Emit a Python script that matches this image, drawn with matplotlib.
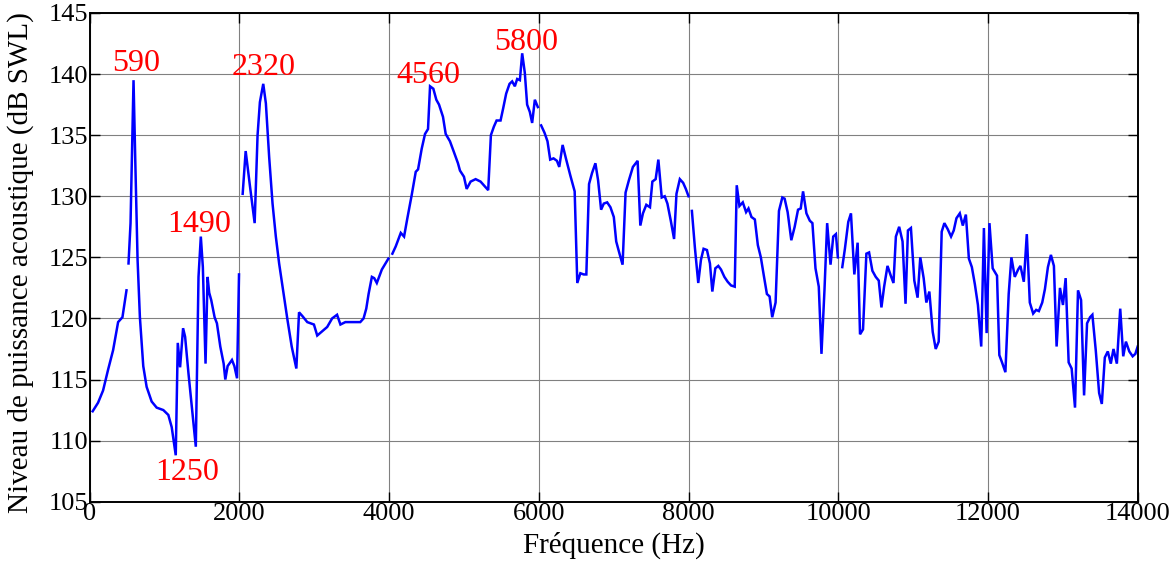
import numpy as np
import matplotlib
matplotlib.use("Agg")
import matplotlib.pyplot as plt

# sound power level spectrum, one block per analysis band (gaps between blocks)
seg1_hz = [40, 112, 179, 246, 313, 380, 438, 492]
seg1_db = [112.4, 113.1, 114.1, 115.8, 117.4, 119.7, 120.1, 122.3]

seg2_hz = [519, 546, 586, 609, 640, 671, 716, 761, 828, 895, 984, 1051, 1096, 1150,
           1177, 1208, 1248, 1275, 1320, 1374, 1418, 1454, 1485, 1512, 1548, 1575,
           1597, 1624, 1669, 1700, 1745, 1790, 1812, 1843, 1901, 1933, 1969, 1995]
seg2_db = [124.5, 127.8, 139.5, 133.0, 124.8, 120.1, 116.1, 114.4, 113.2, 112.7, 112.5,
           112.1, 111.1, 108.8, 118.0, 116.0, 119.2, 118.5, 115.5, 112.2, 109.5, 123.4,
           126.7, 124.2, 116.3, 123.4, 122.1, 121.5, 120.1, 119.6, 117.7, 116.3, 115.0,
           116.1, 116.6, 116.1, 115.1, 123.6]

seg3_hz = [2044, 2084, 2142, 2204, 2243, 2274, 2319, 2354, 2398, 2443, 2487, 2531, 2584,
           2642, 2699, 2761, 2797, 2841, 2907, 2996, 3040, 3097, 3173, 3239, 3305, 3350,
           3416, 3505, 3615, 3659, 3695, 3726, 3770, 3801, 3836, 3903, 3991]
seg3_db = [130.2, 133.7, 130.8, 127.8, 135.0, 137.7, 139.2, 137.6, 133.2, 129.4, 126.7,
           124.5, 122.3, 119.9, 117.7, 115.9, 120.5, 120.2, 119.7, 119.5, 118.6, 118.9,
           119.3, 120.0, 120.3, 119.5, 119.7, 119.7, 119.7, 120.0, 120.8, 122.0, 123.4,
           123.3, 122.9, 124.0, 124.9]

seg4_hz = [4044, 4089, 4156, 4200, 4244, 4302, 4356, 4387, 4436, 4480, 4520, 4547, 4591,
           4631, 4667, 4720, 4756, 4813, 4867, 4920, 4947, 5000, 5036, 5089, 5156, 5222,
           5280, 5324, 5360, 5400, 5436, 5489, 5524, 5564, 5609, 5644, 5680, 5711, 5747,
           5778, 5813, 5844, 5880, 5911, 5947, 5987]
seg4_db = [125.3, 125.9, 127.0, 126.7, 128.2, 130.1, 132.0, 132.2, 133.9, 135.1, 135.5,
           139.0, 138.8, 137.9, 137.5, 136.5, 135.1, 134.5, 133.6, 132.7, 132.1, 131.6,
           130.6, 131.2, 131.4, 131.2, 130.8, 130.5, 135.0, 135.7, 136.2, 136.2, 137.2,
           138.4, 139.2, 139.4, 139.0, 139.6, 139.5, 141.7, 140.1, 137.5, 136.9, 136.0,
           137.9, 137.3]

seg5_hz = [6031, 6076, 6116, 6152, 6197, 6242, 6273, 6318, 6362, 6421, 6479, 6514, 6555,
           6600, 6635, 6671, 6711, 6756, 6792, 6832, 6868, 6913, 6957, 7002, 7034, 7078,
           7119, 7159, 7203, 7257, 7320, 7356, 7391, 7436, 7485, 7517, 7561, 7597, 7642,
           7682, 7718, 7763, 7807, 7839, 7884, 7928, 7964, 8000]
seg5_db = [135.8, 135.2, 134.5, 133.0, 133.1, 132.9, 132.4, 134.2, 133.1, 131.7, 130.4,
           122.9, 123.7, 123.6, 123.6, 131.0, 131.9, 132.7, 131.3, 128.9, 129.4, 129.5,
           129.1, 128.3, 126.3, 125.3, 124.4, 130.3, 131.3, 132.4, 132.9, 127.6, 128.6,
           129.3, 129.1, 131.2, 131.4, 133.0, 129.9, 130.0, 129.4, 128.0, 126.5, 130.2,
           131.4, 131.1, 130.6, 130.0]

seg6_hz = [8045, 8085, 8130, 8166, 8201, 8246, 8286, 8318, 8358, 8398, 8434, 8479, 8523,
           8568, 8617, 8644, 8680, 8725, 8769, 8801, 8841, 8886, 8926, 8966, 9006, 9047,
           9083, 9118, 9163, 9208, 9253, 9284, 9324, 9373, 9418, 9463, 9499, 9530, 9575,
           9620, 9655, 9696, 9740, 9776, 9816, 9852, 9897, 9933, 9969, 9995]
seg6_db = [128.8, 125.8, 122.9, 124.8, 125.7, 125.6, 124.5, 122.2, 124.1, 124.3, 124.0,
           123.4, 123.0, 122.7, 122.6, 130.9, 129.2, 129.5, 128.7, 129.0, 128.3, 128.1,
           126.0, 125.0, 123.5, 122.0, 121.8, 120.1, 121.3, 128.8, 129.9, 129.8, 128.7,
           126.4, 127.5, 128.9, 129.0, 130.4, 128.6, 128.0, 127.8, 124.1, 122.6, 117.1,
           122.3, 127.8, 124.4, 126.7, 126.9, 125.0]

seg7_hz = [10054, 10089, 10134, 10170, 10215, 10259, 10291, 10331, 10376, 10412, 10456,
           10501, 10541, 10577, 10613, 10658, 10702, 10738, 10770, 10814, 10859, 10899,
           10931, 10971, 11016, 11060, 11096, 11141, 11177, 11217, 11262, 11302, 11342,
           11382, 11418, 11463, 11507, 11543, 11579, 11624, 11664, 11705, 11745, 11785,
           11825, 11866, 11910, 11946, 11982, 12020, 12063, 12121, 12152, 12188, 12233,
           12277, 12313, 12358, 12403, 12434, 12479, 12519, 12559, 12604, 12644, 12680,
           12725, 12761, 12801, 12841, 12881, 12917, 12962, 13002, 13038, 13078, 13118,
           13163, 13203, 13244, 13284, 13324, 13364, 13395, 13440, 13485, 13521, 13561,
           13601, 13641, 13677, 13722, 13767, 13807, 13843, 13888, 13933, 13969, 14000]
seg7_db = [124.2, 125.7, 127.9, 128.6, 123.6, 126.2, 118.7, 119.1, 125.3, 125.4, 123.9,
           123.4, 123.1, 120.9, 122.6, 124.3, 123.5, 122.9, 126.7, 127.5, 126.3, 121.2,
           127.2, 127.4, 123.1, 121.7, 125.0, 123.3, 121.3, 122.2, 118.9, 117.5, 118.1,
           127.1, 127.8, 127.3, 126.7, 127.2, 128.2, 128.6, 127.6, 128.5, 124.9, 124.2,
           122.8, 121.1, 117.7, 127.4, 118.8, 127.8, 124.1, 123.5, 117.0, 116.4, 115.6,
           122.0, 125.0, 123.4, 124.0, 124.3, 123.0, 126.9, 121.3, 120.4, 120.7, 120.6,
           121.3, 122.4, 124.2, 125.2, 124.3, 117.7, 122.5, 121.1, 123.3, 116.4, 115.9,
           112.7, 122.3, 121.5, 113.7, 119.6, 120.1, 120.3, 117.4, 113.9, 113.0, 116.8,
           117.3, 116.3, 117.5, 116.3, 120.8, 116.9, 118.1, 117.3, 116.9, 117.1, 117.7]

SEGMENTS = [(seg1_hz, seg1_db), (seg2_hz, seg2_db), (seg3_hz, seg3_db), (seg4_hz, seg4_db),
            (seg5_hz, seg5_db), (seg6_hz, seg6_db), (seg7_hz, seg7_db)]

# peak labels: text, x (Hz), y (dB, baseline)
peak_text = ["590", "1250", "1490", "2320", "4560", "5800"]
peak_x = [619, 1300, 1467, 2329, 4524, 5825]
peak_y = [140.25, 106.8, 127.1, 139.9, 139.3, 142.0]

x_ticks = list(range(0, 14001, 2000))
y_ticks = list(range(105, 146, 5))

plt.rcParams["font.family"] = ["Liberation Serif", "DejaVu Serif"]

fig = plt.figure(figsize=(11.69, 5.62), dpi=100)
ax = fig.add_axes([0.0767, 0.1073, 0.8965, 0.8696])

for hz, db in SEGMENTS:
    ax.plot(hz, db, color="#0000ff", lw=1.8, solid_joinstyle="miter")

for t, x, y in zip(peak_text, peak_x, peak_y):
    ax.text(x, y, t, color="#ff0000", fontsize=23, ha="center", va="baseline")

ax.set_xlim(0, 14000)
ax.set_ylim(105, 145)
ax.set_xticks(x_ticks)
ax.set_yticks(y_ticks)
ax.grid(True, color="#808080", lw=0.8)
ax.tick_params(direction="in", length=7, width=1, top=True, right=True,
               labelsize=19, pad=1)
for s in ax.spines.values():
    s.set_linewidth(1.4)

ax.set_xlabel("Fréquence (Hz)", fontsize=21)
ax.set_ylabel("Niveau de puissance acoustique (dB SWL)", fontsize=21)
ax.xaxis.set_label_coords(0.5, -0.062)
ax.yaxis.set_label_coords(-0.053, 0.49)

fig.savefig("out.png", dpi=100)
